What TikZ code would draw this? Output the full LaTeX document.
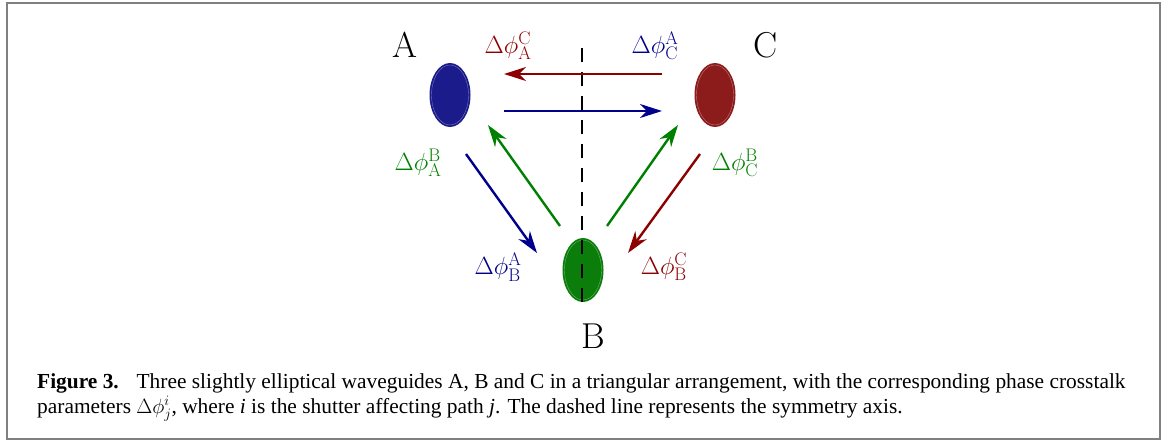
\documentclass[tikz,border=0pt]{standalone}
\usepackage{fontspec}
\newfontfamily\capfont{Liberation Serif}
\usetikzlibrary{shapes.geometric,arrows.meta}
\definecolor{fblue}{RGB}{27,27,140}
\definecolor{fred}{RGB}{140,27,27}
\definecolor{fgreen}{RGB}{10,125,10}
\definecolor{ablue}{RGB}{0,0,140}
\definecolor{ared}{RGB}{140,0,0}
\definecolor{agreen}{RGB}{0,128,0}
\definecolor{framegray}{RGB}{128,128,128}
\begin{document}
\begin{tikzpicture}[x=1pt,y=-1pt,
  guide/.style={ellipse,minimum width=41pt,minimum height=64pt,inner sep=0pt},
  rim/.style={line width=0.4pt},
  arr/.style={line width=2.4pt,-{Stealth[length=22pt,width=14pt,inset=7pt]}},
  axis/.style={line width=1.8pt,dash pattern=on 14pt off 10pt},
  big/.style={font=\fontsize{36}{40}\selectfont},
  lab/.style={font=\fontsize{26}{30}\selectfont},
  captext/.style={font=\capfont\fontsize{21.4}{24}\selectfont,anchor=base west,inner sep=0pt}]
\useasboundingbox (0,0) rectangle (1174,445);
\draw[framegray,line width=2pt] (7,3) rectangle (1160,439);
% waveguides
\node[guide,fill=fblue] (A) at (450,95) {};
\node[guide,fill=fred] (C) at (715,95) {};
\node[guide,fill=fgreen] (B) at (583,270) {};
\draw[rim,fblue!60!white] (A) ellipse [x radius=18.5pt,y radius=30pt];
\draw[rim,fred!60!white] (C) ellipse [x radius=18.5pt,y radius=30pt];
\draw[rim,fgreen!60!white] (B) ellipse [x radius=18.5pt,y radius=30pt];
% symmetry axis
\coordinate (axtop) at (582,48);
\coordinate (axbot) at (582,308);
\draw[axis] (axtop) -- (axbot);
% names
\node[big] (nA) at (405,45) {A};
\node[big] (nC) at (766,45) {C};
\node[big] (nB) at (593,336) {B};
% arrow end points
\coordinate (c1) at (662,74);  \coordinate (a1) at (504,74);
\coordinate (a2) at (504,111); \coordinate (c2) at (662,111);
\coordinate (b1) at (560,226); \coordinate (a3) at (488,125);
\coordinate (a4) at (466,154); \coordinate (b2) at (537,253);
\coordinate (b3) at (607,226); \coordinate (c3) at (678,125);
\coordinate (c4) at (700,154); \coordinate (b4) at (628,253);
\draw[arr,ared] (c1) -- (a1);
\draw[arr,ablue] (a2) -- (c2);
\draw[arr,agreen] (b1) -- (a3);
\draw[arr,ablue] (a4) -- (b2);
\draw[arr,agreen] (b3) -- (c3);
\draw[arr,ared] (c4) -- (b4);
% labels
\node[lab,ared] (lAC) at (508,46) {$\Delta\phi_{\mathrm{A}}^{\mathrm{C}}$};
\node[lab,ablue] (lCA) at (655,46) {$\Delta\phi_{\mathrm{C}}^{\mathrm{A}}$};
\node[lab,agreen] (lAB) at (418,163) {$\Delta\phi_{\mathrm{A}}^{\mathrm{B}}$};
\node[lab,agreen] (lCB) at (735,163) {$\Delta\phi_{\mathrm{C}}^{\mathrm{B}}$};
\node[lab,ablue] (lBA) at (498,267) {$\Delta\phi_{\mathrm{B}}^{\mathrm{A}}$};
\node[lab,ared] (lBC) at (664,267) {$\Delta\phi_{\mathrm{B}}^{\mathrm{C}}$};
% caption
\node[captext] (cap1) at (37,388) {\textbf{Figure 3.}\hspace{0.5em} Three slightly elliptical waveguides A, B and C in a triangular arrangement, with the corresponding phase crosstalk};
\node[captext] (cap2) at (37,413) {parameters $\Delta\phi_j^i$, where \textit{i} is the shutter affecting path \textit{j}. The dashed line represents the symmetry axis.};
\end{tikzpicture}
\end{document}
